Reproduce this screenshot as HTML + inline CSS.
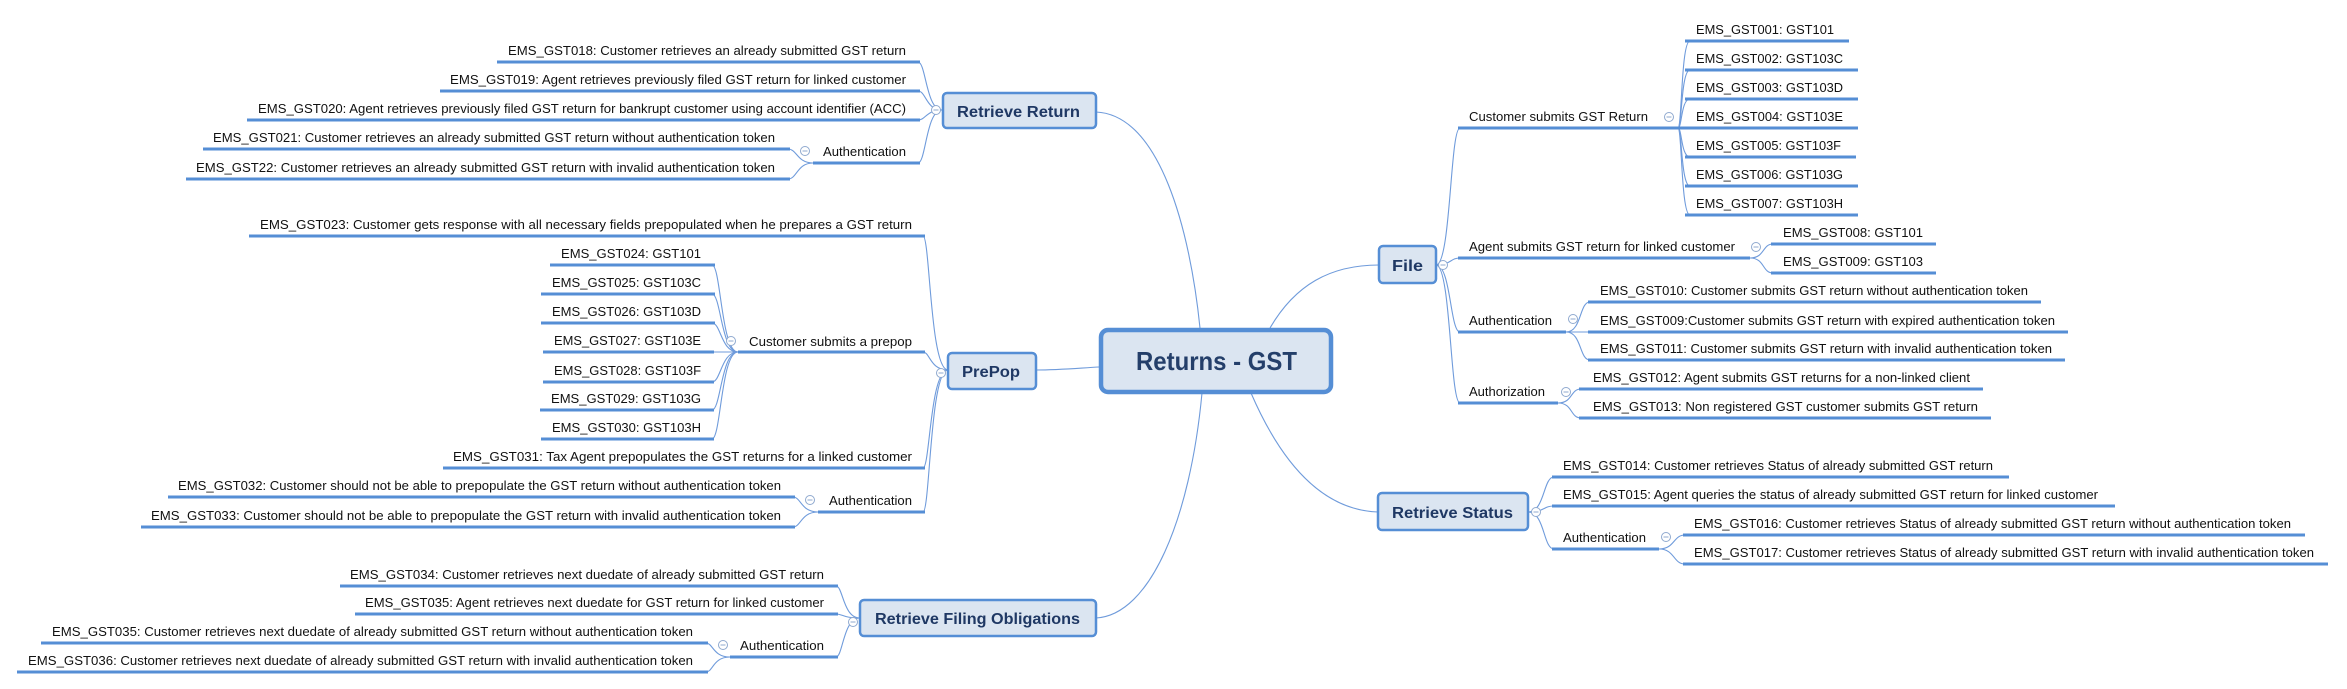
<!DOCTYPE html>
<html><head><meta charset="utf-8"><style>
html,body{margin:0;padding:0;background:#fff;}
svg{display:block;}
.t{font-family:"Liberation Sans",sans-serif;font-size:13px;fill:#111;}
.u{stroke:#558ed5;stroke-width:3;}
.c{fill:none;stroke:#6f9bdb;stroke-width:1.1;}
.b{fill:#dbe5f1;stroke:#558ed5;stroke-width:2.5;}
.bt{font-family:"Liberation Sans",sans-serif;font-weight:bold;font-size:16px;fill:#1f3864;}
.cc{fill:#fff;stroke:#8fa9cf;stroke-width:1;}
.cm{stroke:#8fa9cf;stroke-width:1;}
</style></head><body>
<svg width="2347" height="689" viewBox="0 0 2347 689" xmlns="http://www.w3.org/2000/svg">
<!-- main connectors -->
<path class="c" d="M1096 112 C1160 115,1190 230,1200 328"/>
<path class="c" d="M1270 328 C1295 285,1330 265,1379 265"/>
<path class="c" d="M1036 370 C1060 370,1080 368,1099 367"/>
<path class="c" d="M1202 393 C1190 520,1150 615,1096 618"/>
<path class="c" d="M1251 393 C1280 460,1320 510,1378 512"/>

<!-- left connectors -->
<g class="c">
<path d="M942 110 C926 110,926 62,918 62"/><path d="M942 110 C926 110,926 91,918 91"/><path d="M942 110 C926 110,926 120,918 120"/><path d="M942 110 C926 110,926 163,918 163"/>
<path d="M813 163 C797 163,797 149,788 149"/><path d="M813 163 C797 163,797 179,788 179"/>
<path d="M948 370 C930 370,930 236,923 236"/><path d="M948 370 C930 370,930 352,923 352"/><path d="M948 370 C930 370,930 468,923 468"/><path d="M948 370 C930 370,930 512,923 512"/>
<path d="M738 352 C721 352,721 265,712 265"/><path d="M738 352 C721 352,721 294,712 294"/><path d="M738 352 C721 352,721 323,712 323"/><path d="M738 352 L712 352"/><path d="M738 352 C721 352,721 382,712 382"/><path d="M738 352 C721 352,721 410,712 410"/><path d="M738 352 C721 352,721 439,712 439"/>
<path d="M818 512 C801 512,801 497,793 497"/><path d="M818 512 C801 512,801 527,793 527"/>
<path d="M860 618 C843 618,843 586,836 586"/><path d="M860 618 C843 618,843 614,836 614"/><path d="M860 618 C843 618,843 657,836 657"/>
<path d="M730 657 C713 657,713 643,706 643"/><path d="M730 657 C713 657,713 672,706 672"/>
</g>
<!-- right connectors -->
<g class="c">
<path d="M1436 265 C1451 265,1450 128,1460 128"/><path d="M1436 265 C1451 265,1450 258,1460 258"/><path d="M1436 265 C1451 265,1450 332,1460 332"/><path d="M1436 265 C1451 265,1450 403,1460 403"/>
<path d="M1678 128 C1682 128,1681 41,1690 41"/><path d="M1678 128 C1682 128,1681 70,1690 70"/><path d="M1678 128 C1682 128,1681 99,1690 99"/><path d="M1678 128 L1690 128"/><path d="M1678 128 C1682 128,1681 157,1690 157"/><path d="M1678 128 C1682 128,1681 186,1690 186"/><path d="M1678 128 C1682 128,1681 215,1690 215"/>
<path d="M1750 258 C1765 258,1762 244,1773 244"/><path d="M1750 258 C1765 258,1762 273,1773 273"/>
<path d="M1566 332 C1582 332,1579 302,1590 302"/><path d="M1566 332 L1590 332"/><path d="M1566 332 C1582 332,1579 360,1590 360"/>
<path d="M1558 403 C1573 403,1570 389,1581 389"/><path d="M1558 403 C1573 403,1570 418,1581 418"/>
<path d="M1528 512 C1545 512,1543 477,1554 477"/><path d="M1528 512 C1545 512,1543 506,1554 506"/><path d="M1528 512 C1545 512,1543 549,1554 549"/>
<path d="M1659 549 C1675 549,1673 535,1685 535"/><path d="M1659 549 C1675 549,1673 564,1685 564"/>
</g>

<!-- underlines left -->
<g class="u">
<line x1="497" y1="62" x2="920" y2="62"/><line x1="440" y1="91" x2="920" y2="91"/><line x1="247" y1="120" x2="920" y2="120"/><line x1="813" y1="163" x2="920" y2="163"/>
<line x1="203" y1="149" x2="790" y2="149"/><line x1="186" y1="179" x2="790" y2="179"/>
<line x1="249" y1="236" x2="925" y2="236"/>
<line x1="550" y1="265" x2="715" y2="265"/><line x1="541" y1="294" x2="715" y2="294"/><line x1="541" y1="323" x2="715" y2="323"/><line x1="543" y1="352" x2="714" y2="352"/><line x1="543" y1="382" x2="714" y2="382"/><line x1="540" y1="410" x2="714" y2="410"/><line x1="541" y1="439" x2="714" y2="439"/>
<line x1="738" y1="352" x2="925" y2="352"/><line x1="443" y1="468" x2="925" y2="468"/><line x1="818" y1="512" x2="925" y2="512"/>
<line x1="168" y1="497" x2="795" y2="497"/><line x1="141" y1="527" x2="795" y2="527"/>
<line x1="340" y1="586" x2="838" y2="586"/><line x1="355" y1="614" x2="838" y2="614"/><line x1="730" y1="657" x2="838" y2="657"/>
<line x1="41" y1="643" x2="708" y2="643"/><line x1="17" y1="672" x2="708" y2="672"/>
</g>
<!-- underlines right -->
<g class="u">
<line x1="1458" y1="128" x2="1685" y2="128"/>
<line x1="1685" y1="41" x2="1849" y2="41"/><line x1="1685" y1="70" x2="1858" y2="70"/><line x1="1685" y1="99" x2="1858" y2="99"/><line x1="1685" y1="128" x2="1858" y2="128"/><line x1="1685" y1="157" x2="1856" y2="157"/><line x1="1685" y1="186" x2="1858" y2="186"/><line x1="1685" y1="215" x2="1858" y2="215"/>
<line x1="1458" y1="258" x2="1750" y2="258"/><line x1="1771" y1="244" x2="1936" y2="244"/><line x1="1771" y1="273" x2="1936" y2="273"/>
<line x1="1458" y1="332" x2="1566" y2="332"/><line x1="1588" y1="302" x2="2041" y2="302"/><line x1="1588" y1="332" x2="2068" y2="332"/><line x1="1588" y1="360" x2="2065" y2="360"/>
<line x1="1458" y1="403" x2="1558" y2="403"/><line x1="1579" y1="389" x2="1983" y2="389"/><line x1="1579" y1="418" x2="1991" y2="418"/>
<line x1="1552" y1="477" x2="2009" y2="477"/><line x1="1552" y1="506" x2="2115" y2="506"/><line x1="1552" y1="549" x2="1659" y2="549"/>
<line x1="1683" y1="535" x2="2305" y2="535"/><line x1="1683" y1="564" x2="2328" y2="564"/>
</g>

<!-- text left -->
<g class="t" lengthAdjust="spacingAndGlyphs">
<text x="508" y="55" textLength="398" lengthAdjust="spacingAndGlyphs">EMS_GST018: Customer retrieves an already submitted GST return</text>
<text x="450" y="84" textLength="456" lengthAdjust="spacingAndGlyphs">EMS_GST019: Agent retrieves previously filed GST return for linked customer</text>
<text x="258" y="113" textLength="648" lengthAdjust="spacingAndGlyphs">EMS_GST020: Agent retrieves previously filed GST return for bankrupt customer using account identifier (ACC)</text>
<text x="823" y="156" textLength="83" lengthAdjust="spacingAndGlyphs">Authentication</text>
<text x="213" y="142" textLength="562" lengthAdjust="spacingAndGlyphs">EMS_GST021: Customer retrieves an already submitted GST return without authentication token</text>
<text x="196" y="172" textLength="579" lengthAdjust="spacingAndGlyphs">EMS_GST22: Customer retrieves an already submitted GST return with invalid authentication token</text>
<text x="260" y="229" textLength="652" lengthAdjust="spacingAndGlyphs">EMS_GST023: Customer gets response with all necessary fields prepopulated when he prepares a GST return</text>
<text x="561" y="258" textLength="140" lengthAdjust="spacingAndGlyphs">EMS_GST024: GST101</text>
<text x="552" y="287" textLength="149" lengthAdjust="spacingAndGlyphs">EMS_GST025: GST103C</text>
<text x="552" y="316" textLength="149" lengthAdjust="spacingAndGlyphs">EMS_GST026: GST103D</text>
<text x="554" y="345" textLength="147" lengthAdjust="spacingAndGlyphs">EMS_GST027: GST103E</text>
<text x="554" y="375" textLength="147" lengthAdjust="spacingAndGlyphs">EMS_GST028: GST103F</text>
<text x="551" y="403" textLength="150" lengthAdjust="spacingAndGlyphs">EMS_GST029: GST103G</text>
<text x="552" y="432" textLength="149" lengthAdjust="spacingAndGlyphs">EMS_GST030: GST103H</text>
<text x="749" y="346" textLength="163" lengthAdjust="spacingAndGlyphs">Customer submits a prepop</text>
<text x="453" y="461" textLength="459" lengthAdjust="spacingAndGlyphs">EMS_GST031: Tax Agent prepopulates the GST returns for a linked customer</text>
<text x="829" y="505" textLength="83" lengthAdjust="spacingAndGlyphs">Authentication</text>
<text x="178" y="490" textLength="603" lengthAdjust="spacingAndGlyphs">EMS_GST032: Customer should not be able to prepopulate the GST return without authentication token</text>
<text x="151" y="520" textLength="630" lengthAdjust="spacingAndGlyphs">EMS_GST033: Customer should not be able to prepopulate the GST return  with invalid authentication token</text>
<text x="350" y="579" textLength="474" lengthAdjust="spacingAndGlyphs">EMS_GST034: Customer retrieves next duedate of already submitted GST return</text>
<text x="365" y="607" textLength="459" lengthAdjust="spacingAndGlyphs">EMS_GST035: Agent retrieves next duedate for GST return for linked customer</text>
<text x="740" y="650" textLength="84" lengthAdjust="spacingAndGlyphs">Authentication</text>
<text x="52" y="636" textLength="641" lengthAdjust="spacingAndGlyphs">EMS_GST035:  Customer retrieves next duedate of already submitted GST return without authentication token</text>
<text x="28" y="665" textLength="665" lengthAdjust="spacingAndGlyphs">EMS_GST036:  Customer retrieves next duedate of already submitted GST return with invalid authentication token</text>
</g>
<!-- text right -->
<g class="t">
<text x="1469" y="121" textLength="179" lengthAdjust="spacingAndGlyphs">Customer submits GST Return</text>
<text x="1696" y="34" textLength="138" lengthAdjust="spacingAndGlyphs">EMS_GST001: GST101</text>
<text x="1696" y="63" textLength="147" lengthAdjust="spacingAndGlyphs">EMS_GST002: GST103C</text>
<text x="1696" y="92" textLength="147" lengthAdjust="spacingAndGlyphs">EMS_GST003: GST103D</text>
<text x="1696" y="121" textLength="147" lengthAdjust="spacingAndGlyphs">EMS_GST004: GST103E</text>
<text x="1696" y="150" textLength="145" lengthAdjust="spacingAndGlyphs">EMS_GST005: GST103F</text>
<text x="1696" y="179" textLength="147" lengthAdjust="spacingAndGlyphs">EMS_GST006: GST103G</text>
<text x="1696" y="208" textLength="147" lengthAdjust="spacingAndGlyphs">EMS_GST007: GST103H</text>
<text x="1469" y="251" textLength="266" lengthAdjust="spacingAndGlyphs">Agent submits GST return for linked customer</text>
<text x="1783" y="237" textLength="140" lengthAdjust="spacingAndGlyphs">EMS_GST008: GST101</text>
<text x="1783" y="266" textLength="140" lengthAdjust="spacingAndGlyphs">EMS_GST009: GST103</text>
<text x="1469" y="325" textLength="83" lengthAdjust="spacingAndGlyphs">Authentication</text>
<text x="1600" y="295" textLength="428" lengthAdjust="spacingAndGlyphs">EMS_GST010: Customer submits GST return without authentication token</text>
<text x="1600" y="325" textLength="455" lengthAdjust="spacingAndGlyphs">EMS_GST009:Customer submits GST return with expired authentication token</text>
<text x="1600" y="353" textLength="452" lengthAdjust="spacingAndGlyphs">EMS_GST011: Customer submits GST return with invalid authentication token</text>
<text x="1469" y="396" textLength="76" lengthAdjust="spacingAndGlyphs">Authorization</text>
<text x="1593" y="382" textLength="377" lengthAdjust="spacingAndGlyphs">EMS_GST012: Agent submits GST returns for a non-linked client</text>
<text x="1593" y="411" textLength="385" lengthAdjust="spacingAndGlyphs">EMS_GST013: Non registered GST customer submits GST return</text>
<text x="1563" y="470" textLength="430" lengthAdjust="spacingAndGlyphs">EMS_GST014: Customer retrieves Status of already submitted GST return</text>
<text x="1563" y="499" textLength="535" lengthAdjust="spacingAndGlyphs">EMS_GST015: Agent queries the status of already submitted GST return for linked customer</text>
<text x="1563" y="542" textLength="83" lengthAdjust="spacingAndGlyphs">Authentication</text>
<text x="1694" y="528" textLength="597" lengthAdjust="spacingAndGlyphs">EMS_GST016: Customer retrieves Status of already submitted GST return without authentication token</text>
<text x="1694" y="557" textLength="620" lengthAdjust="spacingAndGlyphs">EMS_GST017: Customer retrieves Status of already submitted GST return with invalid authentication token</text>
</g>

<!-- collapse circles -->
<g>
<circle class="cc" cx="936" cy="110" r="4.5"/><line class="cm" x1="933.5" y1="110" x2="938.5" y2="110"/>
<circle class="cc" cx="805" cy="151" r="4.5"/><line class="cm" x1="802.5" y1="151" x2="807.5" y2="151"/>
<circle class="cc" cx="941" cy="373" r="4.5"/><line class="cm" x1="938.5" y1="373" x2="943.5" y2="373"/>
<circle class="cc" cx="731" cy="341" r="4.5"/><line class="cm" x1="728.5" y1="341" x2="733.5" y2="341"/>
<circle class="cc" cx="810" cy="500" r="4.5"/><line class="cm" x1="807.5" y1="500" x2="812.5" y2="500"/>
<circle class="cc" cx="853" cy="622" r="4.5"/><line class="cm" x1="850.5" y1="622" x2="855.5" y2="622"/>
<circle class="cc" cx="723" cy="645" r="4.5"/><line class="cm" x1="720.5" y1="645" x2="725.5" y2="645"/>
<circle class="cc" cx="1443" cy="265" r="4.5"/><line class="cm" x1="1440.5" y1="265" x2="1445.5" y2="265"/>
<circle class="cc" cx="1669" cy="117" r="4.5"/><line class="cm" x1="1666.5" y1="117" x2="1671.5" y2="117"/>
<circle class="cc" cx="1756" cy="247" r="4.5"/><line class="cm" x1="1753.5" y1="247" x2="1758.5" y2="247"/>
<circle class="cc" cx="1573" cy="319" r="4.5"/><line class="cm" x1="1570.5" y1="319" x2="1575.5" y2="319"/>
<circle class="cc" cx="1566" cy="392" r="4.5"/><line class="cm" x1="1563.5" y1="392" x2="1568.5" y2="392"/>
<circle class="cc" cx="1536" cy="512" r="4.5"/><line class="cm" x1="1533.5" y1="512" x2="1538.5" y2="512"/>
<circle class="cc" cx="1666" cy="537" r="4.5"/><line class="cm" x1="1663.5" y1="537" x2="1668.5" y2="537"/>
</g>

<!-- boxes -->
<rect class="b" x="943" y="93" width="153" height="35" rx="4"/>
<text class="bt" x="957" y="117" textLength="123" lengthAdjust="spacingAndGlyphs">Retrieve Return</text>
<rect class="b" x="948" y="353" width="88" height="36" rx="4"/>
<text class="bt" x="962" y="377" textLength="58" lengthAdjust="spacingAndGlyphs">PrePop</text>
<rect class="b" x="860" y="600" width="236" height="36" rx="4"/>
<text class="bt" x="875" y="624" textLength="205" lengthAdjust="spacingAndGlyphs">Retrieve Filing Obligations</text>
<rect class="b" x="1379" y="246" width="57" height="37" rx="4"/>
<text class="bt" x="1392" y="271" textLength="31" lengthAdjust="spacingAndGlyphs">File</text>
<rect class="b" x="1378" y="493" width="150" height="37" rx="4"/>
<text class="bt" x="1392" y="518" textLength="121" lengthAdjust="spacingAndGlyphs">Retrieve Status</text>
<rect x="1101" y="330" width="230" height="62" rx="7" fill="#dbe5f1" stroke="#558ed5" stroke-width="4.5"/>
<text x="1136" y="370" font-family="Liberation Sans, sans-serif" font-weight="bold" font-size="26" fill="#243f6a" textLength="161" lengthAdjust="spacingAndGlyphs">Returns - GST</text>
</svg>
</body></html>
